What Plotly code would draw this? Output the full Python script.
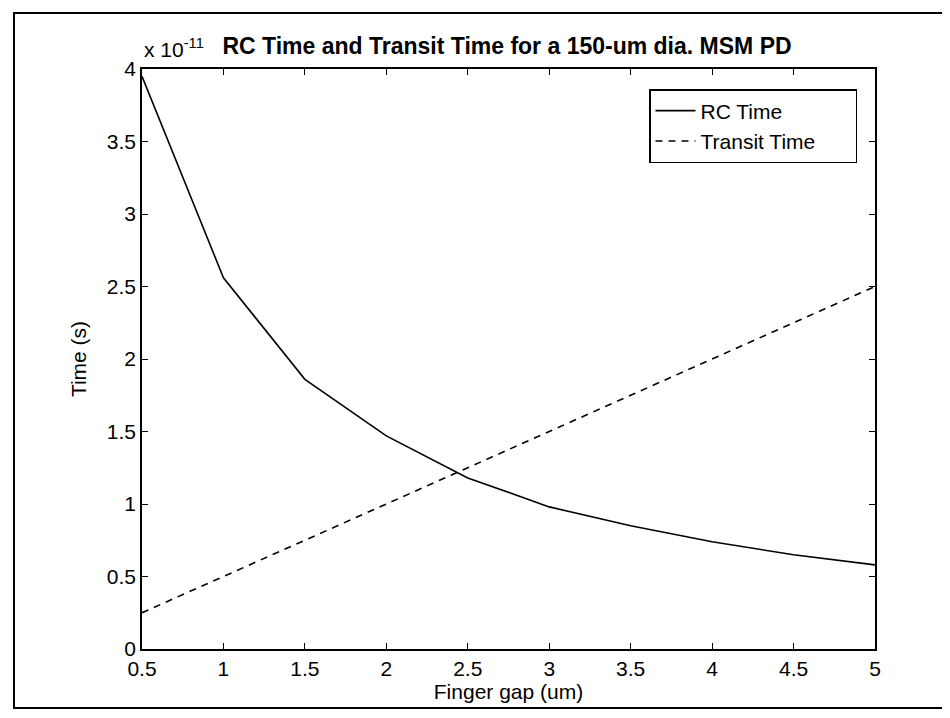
import plotly.graph_objects as go

# Data (time values in units of 1e-11 s)
finger_gap_um = [0.5, 1.0, 1.5, 2.0, 2.5, 3.0, 3.5, 4.0, 4.5, 5.0]
rc_time = [3.95, 2.56, 1.86, 1.47, 1.18, 0.98, 0.85, 0.74, 0.65, 0.58]
transit_time = [0.25, 0.50, 0.75, 1.00, 1.25, 1.50, 1.75, 2.00, 2.25, 2.50]
series_names = ["RC Time", "Transit Time"]

x_ticks = [0.5, 1, 1.5, 2, 2.5, 3, 3.5, 4, 4.5, 5]
x_tick_labels = ["0.5", "1", "1.5", "2", "2.5", "3", "3.5", "4", "4.5", "5"]
y_ticks = [0, 0.5, 1, 1.5, 2, 2.5, 3, 3.5, 4]
y_tick_labels = ["0", "0.5", "1", "1.5", "2", "2.5", "3", "3.5", "4"]

FONT = "Liberation Sans, Arial, sans-serif"
PAD = "\u00a0" * 6

fig = go.Figure()
fig.add_trace(go.Scatter(x=finger_gap_um, y=rc_time, mode="lines", name=series_names[0] + PAD,
                         line=dict(color="black", width=1.6)))
fig.add_trace(go.Scatter(x=finger_gap_um, y=transit_time, mode="lines", name=series_names[1] + PAD,
                         line=dict(color="black", width=1.6, dash="7px,6px")))

W, H = 950, 718
L, R, T, B = 134, 83, 61, 77

axis_common = dict(showline=True, linecolor="black", linewidth=1.5, mirror="ticks",
                   ticks="inside", ticklen=6, tickwidth=1.3, tickcolor="black",
                   showgrid=False, zeroline=False,
                   tickfont=dict(family=FONT, size=21, color="black"))

fig.update_layout(
    width=W, height=H,
    margin=dict(l=L, r=R, t=T, b=B),
    paper_bgcolor="white", plot_bgcolor="white",
    font=dict(family=FONT, color="black"),
    title=dict(text="<b>RC Time and Transit Time for a 150-um dia. MSM PD</b>",
               font=dict(family=FONT, size=23, color="black"),
               x=(218 + 780) / 2 / W, xanchor="center", y=1 - 38 / H, yanchor="middle"),
    xaxis=dict(range=[0.5, 5], tickvals=x_ticks, ticktext=x_tick_labels,
               title=dict(text="Finger gap (um)", font=dict(family=FONT, size=21), standoff=5),
               **axis_common),
    yaxis=dict(range=[0, 4], tickvals=y_ticks, ticktext=y_tick_labels,
               title=dict(text="Time (s)", font=dict(family=FONT, size=21), standoff=14),
               **axis_common),
    legend=dict(x=(849 - L) / (W - L - R), xanchor="right", y=(641 - 81) / (H - T - B), yanchor="top",
                bordercolor="black", borderwidth=1.5, bgcolor="white",
                font=dict(family=FONT, size=21, color="black"),
                tracegroupgap=0, itemwidth=40),
    showlegend=True,
)

# exponent label
fig.add_annotation(text="x 10<sup>-11</sup>", xref="paper", yref="paper",
                   x=0, xanchor="left", y=1 + 6 / (H - T - B), yanchor="bottom",
                   showarrow=False, font=dict(family=FONT, size=21, color="black"))

# outer figure frame
pw, ph = W - L - R, H - T - B
fig.add_shape(type="rect", xref="paper", yref="paper",
              x0=(6 - L) / pw, x1=(943 - L) / pw,
              y0=(641 - 700) / ph, y1=(641 - 5) / ph,
              line=dict(color="black", width=2), layer="below")

fig.write_html("out.html")
